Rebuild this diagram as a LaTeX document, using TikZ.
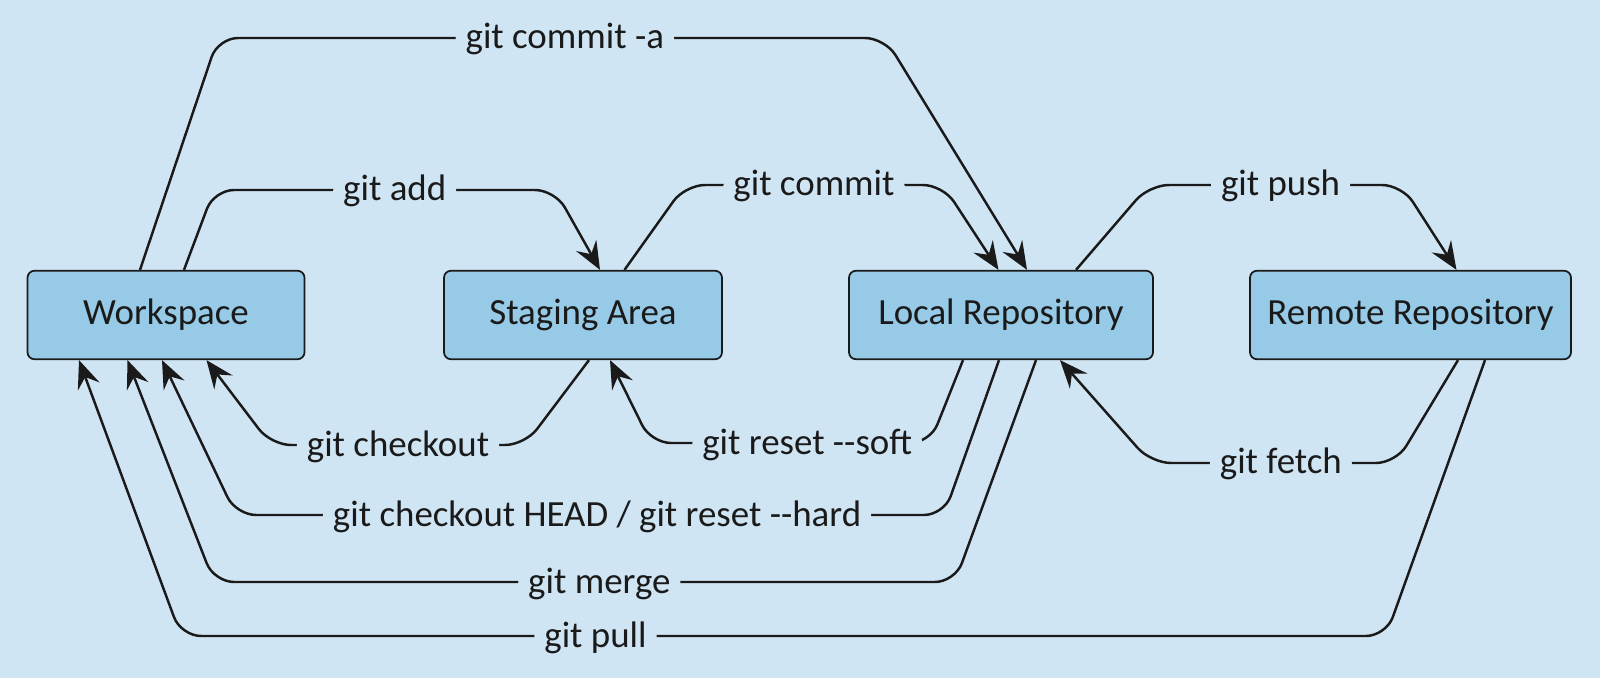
\documentclass[tikz,border=0pt]{standalone}
\usepackage{fontspec}
\setmainfont{Carlito}
\usetikzlibrary{arrows.meta}
\definecolor{bgblue}{RGB}{207,229,243}
\definecolor{boxblue}{RGB}{150,202,230}
\definecolor{ink}{RGB}{26,26,26}
\newcommand{\dd}{-\kern0pt-}
\begin{document}
\begin{tikzpicture}[x=0.1mm,y=-0.1mm,font=\fontsize{10.5}{12}\selectfont,text=ink]
    \tikzstyle{area}=[rectangle,draw=ink,line width=0.5pt,fill=boxblue,rounded corners=0.7mm,minimum height=8.85mm];
    \tikzstyle{cmd}=[-{Stealth[length=2.8mm,width=2.3mm,inset=1mm]},draw=ink,line width=0.7pt,rounded corners=2mm];
    \tikzstyle{cmdlabel}=[fill=bgblue,anchor=base,yshift=-1.1mm,inner xsep=1mm,inner ysep=0.5mm];

    \fill[bgblue] (0,0) rectangle (1600,678);
    \useasboundingbox (0,0) rectangle (1600,678);

    \node[area,minimum width=27.7mm] (ws) at (166,315) {Workspace};
    \node[area,minimum width=27.8mm] (sa) at (583,315) {Staging Area};
    \node[area,minimum width=30.4mm] (lr) at (1001,315) {Local Repository};
    \node[area,minimum width=32.1mm] (rr) at (1410.5,315) {Remote Repository};

    % upper commands
    \draw[cmd] ([xshift=-2.6mm]ws.north) -- (218,38) -- node[cmdlabel,pos=0.52] {git commit -a} (885,38) -- ([xshift=2.6mm]lr.north);
    \draw[cmd] ([xshift=1.8mm]ws.north) -- (214,190) -- node[cmdlabel,pos=0.53] {git add} (555,190) -- ([xshift=1.7mm]sa.north);
    \draw[cmd] ([xshift=4.15mm]sa.north) -- (685,185) -- node[cmdlabel] {git commit} (943,185) -- ([xshift=-0.25mm]lr.north);
    \draw[cmd] ([xshift=7.5mm]lr.north) -- (1149,185) -- node[cmdlabel,pos=0.52] {git push} (1402,185) -- ([xshift=4.6mm]rr.north);

    % lower commands
    \draw[cmd] ([xshift=0.6mm]sa.south) -- (525,445) -- node[cmdlabel] {git checkout} (271,445) -- ([xshift=4.05mm]ws.south);
    \draw[cmd] ([xshift=-3.8mm]lr.south) -- (930,443) -- node[cmdlabel,pos=0.44] {git reset \dd soft} (651,443) -- ([xshift=2.7mm]sa.south);
    \draw[cmd] ([xshift=-0.2mm]lr.south) -- (944,515) -- node[cmdlabel,pos=0.49] {git checkout HEAD / git reset \dd hard} (236,515) -- ([xshift=-0.4mm]ws.south);
    \draw[cmd] ([xshift=3.5mm]lr.south) -- (955,582) -- node[cmdlabel,pos=0.48] {git merge} (214,582) -- ([xshift=-3.85mm]ws.south);
    \draw[cmd] ([xshift=7.45mm]rr.south) -- (1386,636) -- node[cmdlabel,pos=0.656] {git pull} (181,636) -- ([xshift=-8.7mm]ws.south);
    \draw[cmd] ([xshift=4.75mm]rr.south) -- (1396,463) -- node[cmdlabel,pos=0.47] {git fetch} (1151,463) -- ([xshift=5.9mm]lr.south);
\end{tikzpicture}
\end{document}
